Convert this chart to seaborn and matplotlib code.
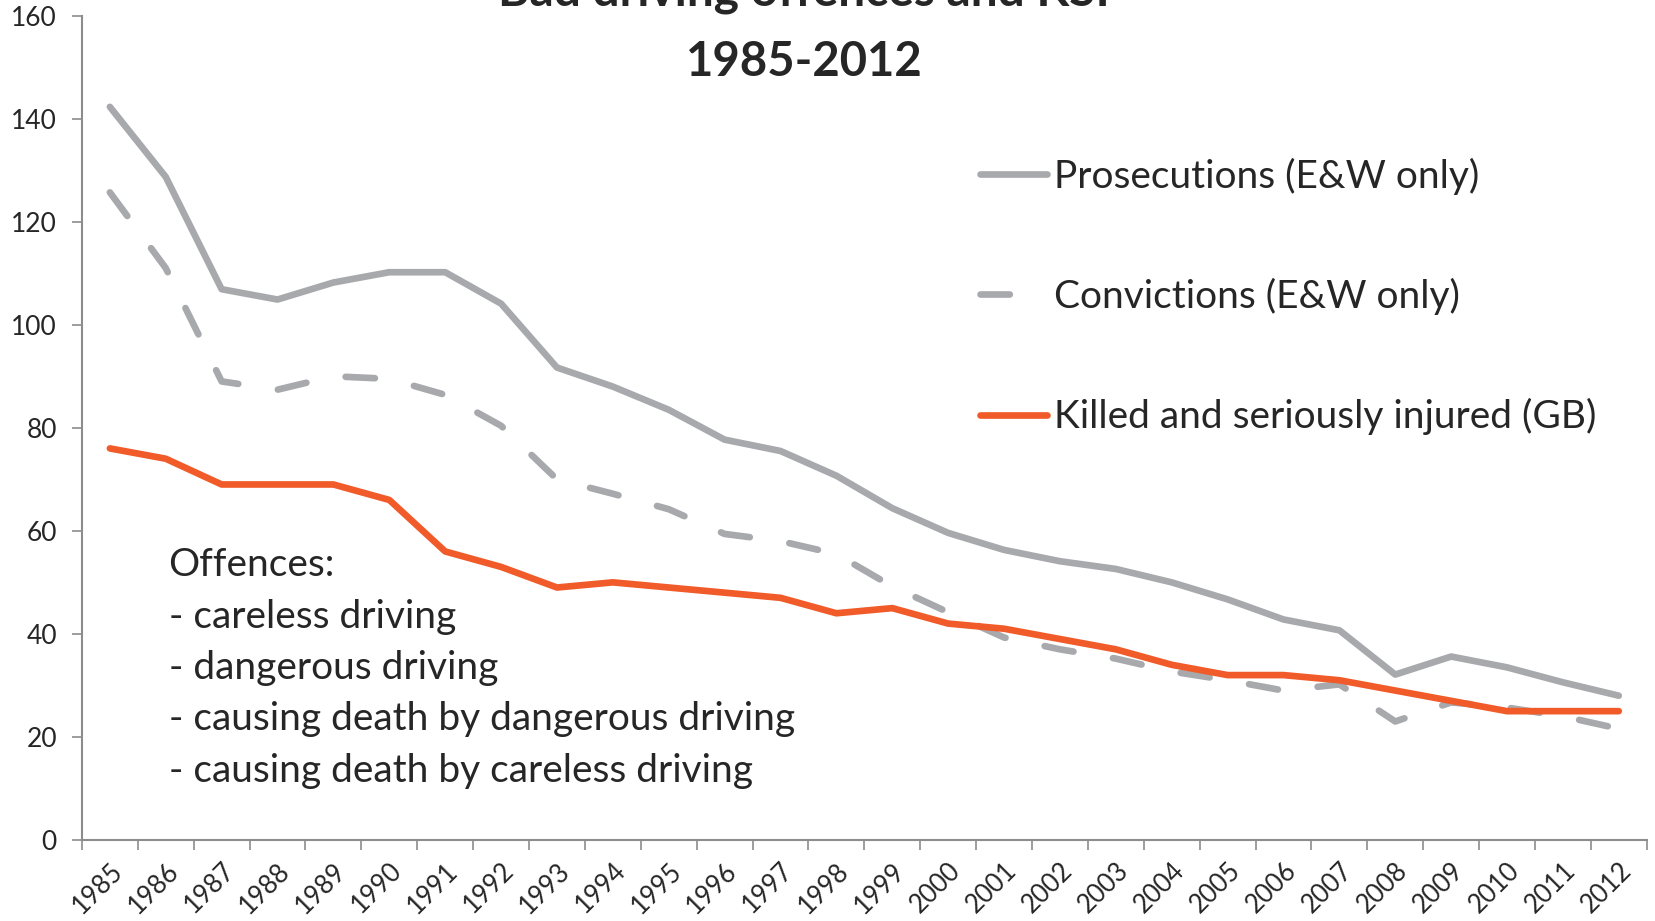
import matplotlib
matplotlib.use("Agg")
import matplotlib.pyplot as plt
from matplotlib.lines import Line2D
from matplotlib.ticker import MultipleLocator, FixedLocator
import pandas as pd
import seaborn as sns

years = list(range(1985, 2013))

prosecutions = [142.3, 128.7, 106.9, 104.9, 108.2, 110.2, 110.2, 104.1, 91.7, 88.0,
                83.5, 77.7, 75.5, 70.7, 64.4, 59.6, 56.3, 54.1, 52.6, 50.0,
                46.7, 42.8, 40.7, 32.1, 35.6, 33.5, 30.6, 28.0]
convictions = [125.7, 111.0, 89.0, 87.4, 90.0, 89.5, 86.4, 80.4, 70.0, 67.2,
               64.2, 59.4, 58.0, 55.5, 49.2, 44.2, 39.3, 37.0, 35.2, 32.7,
               31.0, 29.0, 30.2, 23.0, 26.7, 25.7, 24.0, 21.6]
ksi = [76, 74, 69, 69, 69, 66, 56, 53, 49, 50, 49, 48, 47, 44, 45, 42, 41, 39,
       37, 34, 32, 32, 31, 29, 27, 25, 25, 25]

labels = ["Prosecutions (E&W only)", "Convictions (E&W only)", "Killed and seriously injured (GB)"]
offences = ["Offences:", "- careless driving", "- dangerous driving",
            "- causing death by dangerous driving", "- causing death by careless driving"]

GREY = "#A7A9AC"
ORANGE = "#F15A29"
AXIS = "#8C8C8C"

sns.set_theme(style="white")
plt.rcParams["font.family"] = ["Lato", "DejaVu Sans"]

df = pd.DataFrame({"year": years, "pros": prosecutions, "conv": convictions, "ksi": ksi})

fig = plt.figure(figsize=(16.55, 9.21), dpi=100)
ax = fig.add_axes([0.0495, 0.088, 0.9455, 0.895])

lw = 4.8
dash = (4.4, 6.0)
sns.lineplot(data=df, x="year", y="pros", ax=ax, color=GREY, linewidth=lw,
             solid_capstyle="round", solid_joinstyle="round")
sns.lineplot(data=df, x="year", y="conv", ax=ax, color=GREY, linewidth=lw)
ax.lines[-1].set_dashes(dash)
ax.lines[-1].set_dash_capstyle("round")
ax.lines[-1].set_dash_joinstyle("round")
sns.lineplot(data=df, x="year", y="ksi", ax=ax, color=ORANGE, linewidth=lw,
             solid_capstyle="round", solid_joinstyle="round")

ax.set_xlim(years[0] - 0.5, years[-1] + 0.5)
ax.set_ylim(0, 160)
ax.yaxis.set_major_locator(MultipleLocator(20))
ax.set_xticks(years)
ax.set_xticklabels([str(y) for y in years], rotation=45, ha="right",
                   rotation_mode="anchor", fontsize=18.5)
ax.xaxis.set_minor_locator(FixedLocator([y - 0.5 for y in years] + [years[-1] + 0.5]))
ax.tick_params(axis="x", which="major", length=0, pad=13)
ax.tick_params(axis="x", which="minor", length=7, width=1.2, color=AXIS, direction="out", bottom=True)
ax.tick_params(axis="y", length=7, width=1.2, color=AXIS, direction="out", left=True,
               labelsize=19, pad=11)
ax.set_xlabel("")
ax.set_ylabel("")
for side in ["top", "right"]:
    ax.spines[side].set_visible(False)
for side in ["left", "bottom"]:
    ax.spines[side].set_color(AXIS)
    ax.spines[side].set_linewidth(1.5)

handles = [
    Line2D([], [], color=GREY, linewidth=lw, solid_capstyle="round"),
    Line2D([], [], color=GREY, linewidth=lw, dashes=(4.4, 30), dash_capstyle="round"),
    Line2D([], [], color=ORANGE, linewidth=lw, solid_capstyle="round"),
]
ax.legend(handles, labels, loc="upper left", bbox_to_anchor=(0.592, 0.829),
          bbox_transform=fig.transFigure, frameon=False, fontsize=28,
          handlelength=1.72, handletextpad=0.2, labelspacing=2.14,
          borderpad=0, borderaxespad=0)

ax.text(0.0554, 0.355, "\n".join(offences), transform=ax.transAxes, fontsize=28,
        va="top", ha="left", linespacing=1.53)

fig.text(0.486, 0.9935, "Bad driving offences and KSI", ha="center", va="baseline",
         fontsize=34.5, fontweight="bold")
fig.text(0.486, 0.917, "1985-2012", ha="center", va="baseline",
         fontsize=34, fontweight="bold")

fig.savefig("out.png", dpi=100)
